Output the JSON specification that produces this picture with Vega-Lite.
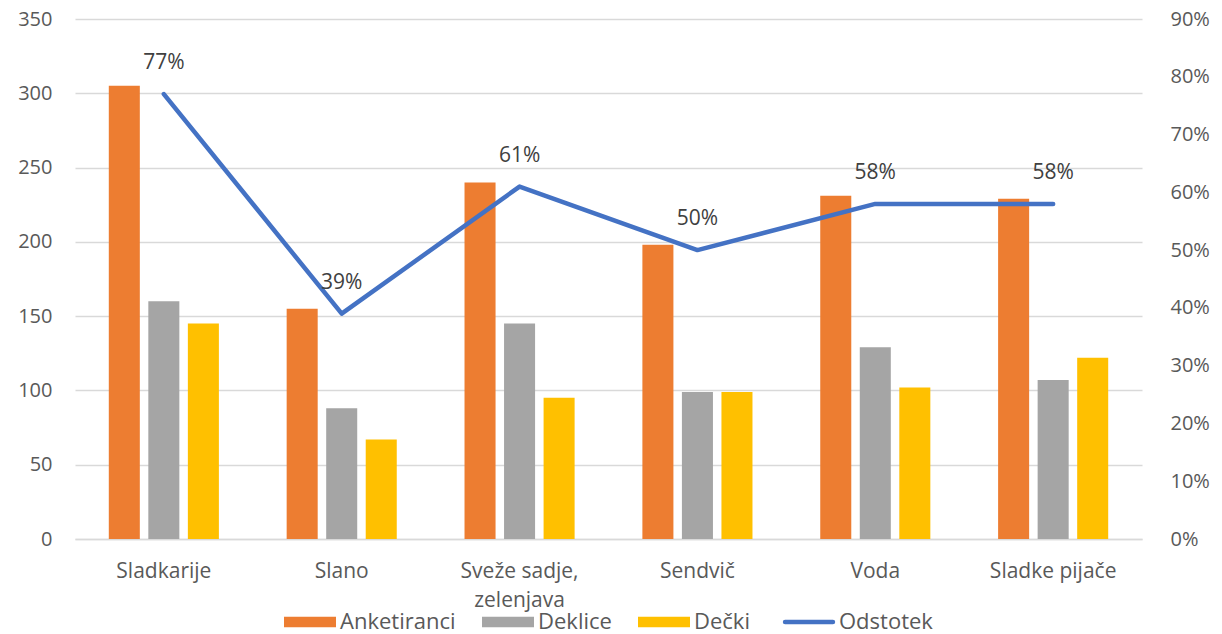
{
  "$schema": "https://vega.github.io/schema/vega-lite/v6.json",
  "width": 1067,
  "height": 520,
  "autosize": "none",
  "padding": {"left": 75, "top": 19, "right": 80, "bottom": 95},
  "background": "white",
  "config": {
    "view": {"stroke": null},
    "font": "Open Sans",
    "axis": {"labelFont": "Open Sans", "labelFontSize": 20, "labelColor": "#595959", "ticks": false, "domain": false, "title": null, "gridColor": "#D9D9D9", "gridWidth": 1.3},
    "legend": {"labelFont": "Open Sans"}
  },
  "datasets": {
    "bars": [
      {"kategorija": "Sladkarije", "skupina": "Anketiranci", "vrednost": 305},
      {"kategorija": "Sladkarije", "skupina": "Deklice", "vrednost": 160},
      {"kategorija": "Sladkarije", "skupina": "Dečki", "vrednost": 145},
      {"kategorija": "Slano", "skupina": "Anketiranci", "vrednost": 155},
      {"kategorija": "Slano", "skupina": "Deklice", "vrednost": 88},
      {"kategorija": "Slano", "skupina": "Dečki", "vrednost": 67},
      {"kategorija": "Sveže sadje, zelenjava", "skupina": "Anketiranci", "vrednost": 240},
      {"kategorija": "Sveže sadje, zelenjava", "skupina": "Deklice", "vrednost": 145},
      {"kategorija": "Sveže sadje, zelenjava", "skupina": "Dečki", "vrednost": 95},
      {"kategorija": "Sendvič", "skupina": "Anketiranci", "vrednost": 198},
      {"kategorija": "Sendvič", "skupina": "Deklice", "vrednost": 99},
      {"kategorija": "Sendvič", "skupina": "Dečki", "vrednost": 99},
      {"kategorija": "Voda", "skupina": "Anketiranci", "vrednost": 231},
      {"kategorija": "Voda", "skupina": "Deklice", "vrednost": 129},
      {"kategorija": "Voda", "skupina": "Dečki", "vrednost": 102},
      {"kategorija": "Sladke pijače", "skupina": "Anketiranci", "vrednost": 229},
      {"kategorija": "Sladke pijače", "skupina": "Deklice", "vrednost": 107},
      {"kategorija": "Sladke pijače", "skupina": "Dečki", "vrednost": 122}
    ],
    "pct": [
      {"kategorija": "Sladkarije", "odstotek": 0.77},
      {"kategorija": "Slano", "odstotek": 0.39},
      {"kategorija": "Sveže sadje, zelenjava", "odstotek": 0.61},
      {"kategorija": "Sendvič", "odstotek": 0.50},
      {"kategorija": "Voda", "odstotek": 0.58},
      {"kategorija": "Sladke pijače", "odstotek": 0.58}
    ]
  },
  "layer": [
    {
      "data": {"name": "bars"},
      "mark": {"type": "bar"},
      "encoding": {
        "x": {
          "field": "kategorija", "type": "nominal",
          "scale": {"domain": ["Sladkarije", "Slano", "Sveže sadje, zelenjava", "Sendvič", "Voda", "Sladke pijače"], "paddingInner": 0.381, "paddingOuter": 0.19},
          "axis": {"labelAngle": 0, "labelPadding": 21, "labelFontSize": 21, "labelBaseline": "top", "labelLineHeight": 29, "domain": true, "domainColor": "#D9D9D9", "domainWidth": 1.3,
                   "labelExpr": "datum.label == 'Sveže sadje, zelenjava' ? ['Sveže sadje,', 'zelenjava'] : datum.label"}
        },
        "xOffset": {"field": "skupina", "type": "nominal", "scale": {"domain": ["Anketiranci", "Deklice", "Dečki"], "paddingInner": 0.215, "paddingOuter": 0}},
        "y": {
          "field": "vrednost", "type": "quantitative",
          "scale": {"domain": [0, 350], "nice": false},
          "axis": {"values": [0, 50, 100, 150, 200, 250, 300, 350], "labelPadding": 23, "grid": true}
        },
        "color": {
          "field": "skupina", "type": "nominal",
          "scale": {"domain": ["Anketiranci", "Deklice", "Dečki", "Odstotek"], "range": ["#ED7D31", "#A5A5A5", "#FFC000", "#4472C4"]},
          "legend": {
            "orient": "none", "legendX": 209, "legendY": 592, "direction": "horizontal", "title": null,
            "symbolSize": 2704, "symbolOffset": 15, "labelFontSize": 22, "labelColor": "#595959", "labelOffset": 19, "columnPadding": 26, "padding": 0,
            "encode": {
              "symbols": {
                "update": {
                  "shape": {"signal": "datum.value === 'Odstotek' ? 'M-0.92,0H0.92' : 'M-1,-0.2H1V0.2H-1Z'"},
                  "fill": {"signal": "datum.value === 'Odstotek' ? 'transparent' : scale('color', datum.value)"},
                  "stroke": {"signal": "scale('color', datum.value)"},
                  "strokeWidth": {"signal": "datum.value === 'Odstotek' ? 4.5 : 0"},
                  "strokeCap": {"value": "round"},
                  "opacity": {"value": 1}
                }
              }
            }
          }
        }
      }
    },
    {
      "data": {"name": "pct"},
      "layer": [
        {
          "mark": {"type": "line", "strokeWidth": 4.5, "strokeCap": "round", "strokeJoin": "round"},
          "encoding": {
            "x": {"field": "kategorija", "type": "nominal"},
            "y": {
              "field": "odstotek", "type": "quantitative",
              "scale": {"domain": [0, 0.9], "nice": false},
              "axis": {"orient": "right", "format": ".0%", "values": [0, 0.1, 0.2, 0.3, 0.4, 0.5, 0.6, 0.7, 0.8, 0.9], "labelPadding": 28, "grid": false}
            },
            "color": {"datum": "Odstotek", "type": "nominal"}
          }
        },
        {
          "mark": {"type": "text", "dy": -31, "fontSize": 21, "color": "#404040", "font": "Open Sans"},
          "encoding": {
            "x": {"field": "kategorija", "type": "nominal"},
            "y": {"field": "odstotek", "type": "quantitative"},
            "text": {"field": "odstotek", "type": "quantitative", "format": ".0%"}
          }
        }
      ]
    }
  ],
  "resolve": {"scale": {"y": "independent"}}
}
